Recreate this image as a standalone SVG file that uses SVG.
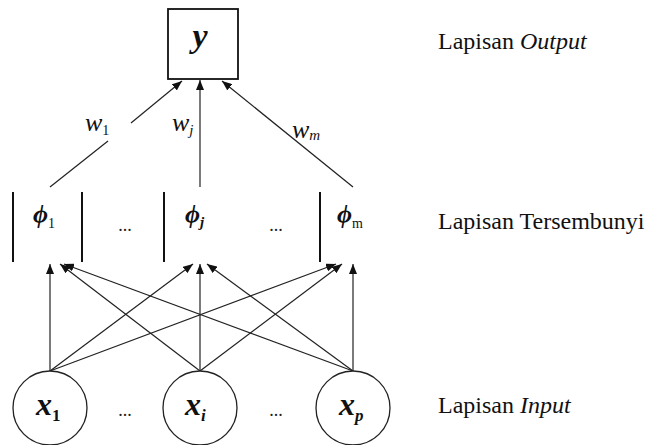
<svg xmlns="http://www.w3.org/2000/svg" width="653" height="445" viewBox="0 0 653 445">
  <defs>
    <marker id="head" markerUnits="userSpaceOnUse" markerWidth="10" markerHeight="8" refX="10" refY="4" orient="auto">
      <path d="M0,0 L10,4 L0,8 z" fill="#111"/>
    </marker>
    <style>
      .edge { stroke: #222; stroke-width: 1.2; fill: none; }
      .arrow { marker-end: url(#head); }
      .bar { stroke: #111; stroke-width: 2; }
      .node { fill: #fff; stroke: #222; stroke-width: 1.3; }
      .math { font-family: "Liberation Serif", "Times New Roman", serif; font-style: italic; fill: #111; }
      .sub { font-family: "Liberation Serif", "Times New Roman", serif; fill: #111; }
      .dots { font-family: "Liberation Serif", "Times New Roman", serif; font-size: 18px; fill: #222; text-anchor: middle; }
      .layer { font-family: "Liberation Serif", "Times New Roman", serif; font-size: 24px; fill: #111; }
    </style>
  </defs>

  <rect width="653" height="445" fill="#fff"/>

  <!-- connectors -->
  <g id="connectors">
    <!-- hidden -> output -->
    <line class="edge" x1="50" y1="187" x2="108" y2="141"/>
    <line class="edge arrow" x1="131" y1="123" x2="182" y2="81"/>
    <line class="edge arrow" x1="200" y1="187" x2="200" y2="80"/>
    <line class="edge arrow" x1="353" y1="187" x2="222" y2="81"/>
    <!-- input -> hidden -->
    <line class="edge arrow" x1="50" y1="371" x2="50" y2="264"/>
    <line class="edge arrow" x1="50" y1="371" x2="193" y2="264"/>
    <line class="edge arrow" x1="50" y1="371" x2="336" y2="264"/>
    <line class="edge arrow" x1="200" y1="371" x2="200" y2="264"/>
    <line class="edge arrow" x1="200" y1="371" x2="60" y2="264"/>
    <line class="edge arrow" x1="200" y1="371" x2="342" y2="264"/>
    <line class="edge arrow" x1="353" y1="371" x2="353" y2="264"/>
    <line class="edge arrow" x1="353" y1="371" x2="64" y2="264"/>
    <line class="edge arrow" x1="353" y1="371" x2="207" y2="264"/>
  </g>

  <!-- weight labels -->
  <g id="weights">
    <text class="math" x="85" y="131" font-size="26">w<tspan class="sub" font-style="normal" font-size="14" dy="4">1</tspan></text>
    <text class="math" x="172" y="131" font-size="26">w<tspan font-size="15" dy="4">j</tspan></text>
    <text class="math" x="292" y="138" font-size="26">w<tspan font-size="15" dy="2">m</tspan></text>
  </g>

  <!-- output node -->
  <g id="node-y">
    <rect x="168" y="9" width="70" height="70" fill="#fff" stroke="#111" stroke-width="1.8"/>
    <text class="math" x="200" y="47" font-size="34" font-weight="bold" text-anchor="middle">y</text>
  </g>

  <!-- hidden layer -->
  <g id="node-phi1">
    <line class="bar" x1="13" y1="192" x2="13" y2="262"/>
    <line class="bar" x1="82" y1="192" x2="82" y2="262"/>
    <text class="math" x="33" y="223" font-size="26" font-weight="bold">ϕ<tspan class="sub" font-style="normal" font-weight="normal" font-size="14" dy="5">1</tspan></text>
  </g>
  <text class="dots" x="125" y="231">...</text>
  <g id="node-phij">
    <line class="bar" x1="164" y1="192" x2="164" y2="262"/>
    <text class="math" x="185" y="223" font-size="26" font-weight="bold">ϕ<tspan font-size="15" dy="4">j</tspan></text>
  </g>
  <text class="dots" x="276" y="231">...</text>
  <g id="node-phim">
    <line class="bar" x1="320" y1="192" x2="320" y2="262"/>
    <text class="math" x="337" y="223" font-size="26" font-weight="bold">ϕ<tspan class="sub" font-style="normal" font-weight="normal" font-size="14" dy="5">m</tspan></text>
  </g>

  <!-- input layer -->
  <g id="node-x1">
    <circle class="node" cx="50" cy="408" r="37"/>
    <text class="math" x="36" y="415" font-size="32" font-weight="bold">x<tspan class="sub" font-style="normal" font-size="17" dy="6">1</tspan></text>
  </g>
  <text class="dots" x="125" y="416">...</text>
  <g id="node-xi">
    <circle class="node" cx="200" cy="408" r="37"/>
    <text class="math" x="185" y="415" font-size="32" font-weight="bold">x<tspan font-size="17" dy="6">i</tspan></text>
  </g>
  <text class="dots" x="276" y="416">...</text>
  <g id="node-xp">
    <circle class="node" cx="353" cy="408" r="37"/>
    <text class="math" x="339" y="415" font-size="32" font-weight="bold">x<tspan font-size="17" dy="6">p</tspan></text>
  </g>

  <!-- layer captions -->
  <g id="captions">
    <text class="layer" x="438" y="49">Lapisan <tspan font-style="italic">Output</tspan></text>
    <text class="layer" x="438" y="229">Lapisan Tersembunyi</text>
    <text class="layer" x="438" y="413">Lapisan <tspan font-style="italic">Input</tspan></text>
  </g>
</svg>
